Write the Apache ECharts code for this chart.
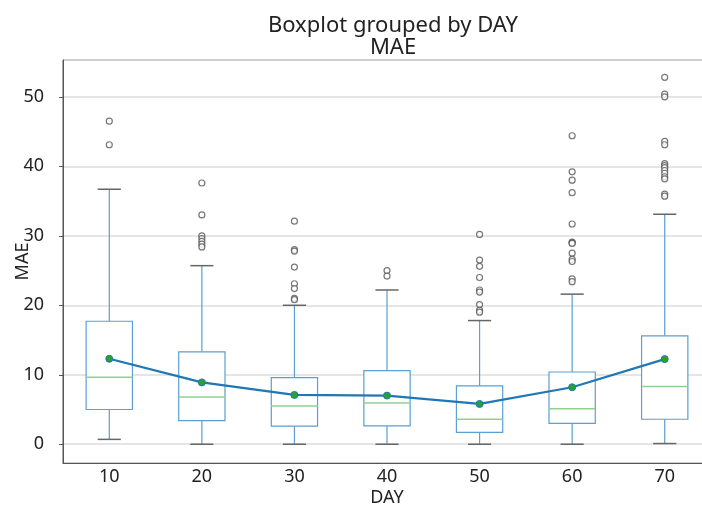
<!DOCTYPE html>
<html>
<head>
<meta charset="utf-8">
<script src="https://cdn.jsdelivr.net/npm/echarts@6/dist/echarts.min.js"></script>
<style>
  html, body { margin: 0; padding: 0; background: #fff; }
  #chart { width: 702px; height: 507px; }
</style>
</head>
<body>
<div id="chart"></div>
<script>
const days = ["10", "20", "30", "40", "50", "60", "70"];
const whiskerLow = [0.7, 0, 0, 0, 0, 0, 0.1];
const q1 = [5.0, 3.4, 2.6, 2.65, 1.7, 3.0, 3.6];
const median = [9.65, 6.8, 5.5, 5.95, 3.6, 5.1, 8.3];
const q3 = [17.7, 13.3, 9.6, 10.6, 8.4, 10.4, 15.6];
const whiskerHigh = [36.7, 25.7, 20.0, 22.2, 17.8, 21.6, 33.1];
const means = [12.3, 8.9, 7.1, 7.0, 5.8, 8.2, 12.25];
const outliers = [
  [46.5, 43.1],
  [37.6, 33.0, 30.0, 29.6, 29.2, 28.8, 28.4],
  [32.1, 28.0, 27.8, 25.5, 23.1, 22.4, 21.0, 20.8],
  [25.0, 24.2],
  [30.2, 26.5, 25.6, 24.0, 22.2, 21.9, 20.1, 19.3, 19.0],
  [44.4, 39.2, 38.0, 36.2, 31.7, 29.1, 29.0, 28.9, 27.5, 26.6, 26.3, 23.8, 23.4],
  [52.8, 50.4, 50.0, 43.6, 43.1, 40.4, 40.1, 39.8, 39.4, 39.0, 38.5, 38.2, 36.0, 35.7]
];

const font = "Noto Sans";
const boxColor = "#5b9fd3";

const boxData = days.map((d, i) => [i, whiskerLow[i], q1[i], median[i], q3[i], whiskerHigh[i]]);
const outlierData = [];
outliers.forEach((vals, i) => vals.forEach(v => outlierData.push([i, v])));

function renderBox(params, api) {
  const i = api.value(0);
  const band = api.size([1, 0])[0];
  const c = api.coord([i, 0])[0];
  const y = k => api.coord([i, api.value(k)])[1];
  const half = band * 0.25, cap = band * 0.125;
  const yLo = y(1), yQ1 = y(2), yMed = y(3), yQ3 = y(4), yHi = y(5);
  const line = (x1, y1, x2, y2, color, w) => ({
    type: "line",
    shape: { x1, y1, x2, y2 },
    style: { stroke: color, lineWidth: w }
  });
  return {
    type: "group",
    children: [
      line(c, yQ3, c, yHi, boxColor, 1.2),
      line(c, yQ1, c, yLo, boxColor, 1.2),
      line(c - cap, yHi, c + cap, yHi, "#666", 1.5),
      line(c - cap, yLo, c + cap, yLo, "#666", 1.5),
      {
        type: "rect",
        shape: { x: c - half, y: yQ3, width: half * 2, height: yQ1 - yQ3 },
        style: { fill: "#fff", stroke: boxColor, lineWidth: 1.2 }
      },
      line(c - half, yMed, c + half, yMed, "#8fd18f", 1.5)
    ]
  };
}

const chart = echarts.init(document.getElementById("chart"));
chart.setOption({
  animation: false,
  textStyle: { fontFamily: font },
  title: {
    text: "Boxplot grouped by DAY\nMAE",
    left: 388,
    textAlign: "center",
    top: 10,
    textStyle: { fontFamily: font, fontSize: 22, fontWeight: "normal", color: "#222", lineHeight: 22 }
  },
  grid: {
    left: 63, top: 60, width: 648, height: 403,
    outerBoundsMode: "none",
    containLabel: false,
    show: true, borderColor: "#555", borderWidth: 1
  },
  xAxis: {
    type: "category",
    data: days,
    name: "DAY",
    nameLocation: "middle",
    nameGap: 26,
    nameMoveOverlap: false,
    nameTextStyle: { fontFamily: font, fontSize: 18, color: "#222" },
    axisLine: { onZero: false, lineStyle: { color: "#555" } },
    axisTick: { show: false },
    axisLabel: { fontFamily: font, fontSize: 18, color: "#222", margin: 5 }
  },
  yAxis: {
    type: "value",
    min: -2.7,
    max: 55.3,
    splitNumber: 6,
    name: "MAE",
    nameLocation: "middle",
    nameGap: 31,
    nameMoveOverlap: false,
    nameTextStyle: { fontFamily: font, fontSize: 18, color: "#222" },
    axisLine: { show: true, lineStyle: { color: "#555" } },
    axisTick: { show: true, length: 4, lineStyle: { color: "#555" } },
    axisLabel: { fontFamily: font, fontSize: 18, color: "#222", margin: 19, showMinLabel: false, showMaxLabel: false },
    splitLine: { lineStyle: { color: "#dcdcdc", width: 1.5 } }
  },
  series: [
    {
      type: "custom",
      renderItem: renderBox,
      data: boxData,
      encode: { x: 0, y: [1, 2, 3, 4, 5] },
      z: 2
    },
    {
      type: "scatter",
      data: outlierData,
      symbol: "circle",
      symbolSize: 6,
      itemStyle: { color: "#fff", borderColor: "#555", borderWidth: 1.2 },
      z: 3
    },
    {
      type: "line",
      data: means,
      symbol: "circle",
      symbolSize: 7,
      lineStyle: { color: "#1f77b4", width: 2.2 },
      itemStyle: { color: "#2ca02c", borderColor: "#1f77b4", borderWidth: 1 },
      z: 4
    }
  ]
});
</script>
</body>
</html>
